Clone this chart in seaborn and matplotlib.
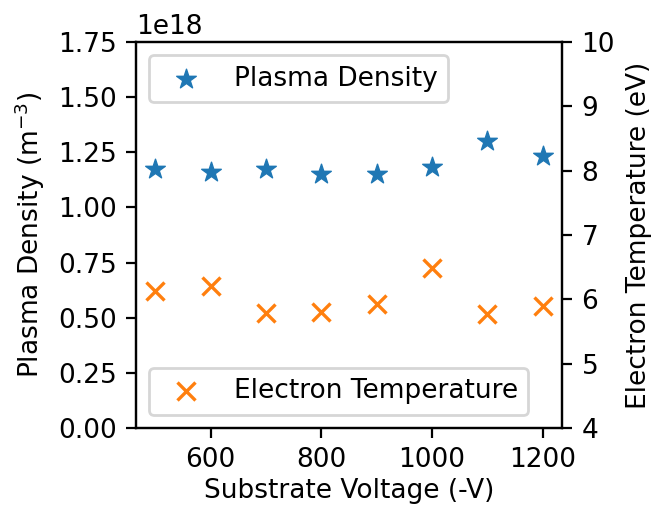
import matplotlib
matplotlib.use("Agg")
import matplotlib.pyplot as plt
import seaborn as sns
import pandas as pd

voltage = [500, 600, 700, 800, 900, 1000, 1100, 1200]
density = [1.173e18, 1.162e18, 1.173e18, 1.151e18, 1.151e18, 1.185e18, 1.302e18, 1.233e18]
temperature = [6.13, 6.21, 5.79, 5.81, 5.92, 6.48, 5.77, 5.89]

plt.rcParams['font.family'] = ['DejaVu Sans']
plt.rcParams['font.size'] = 9.5

df = pd.DataFrame({"V": voltage, "n": density, "T": temperature})

fig = plt.figure(figsize=(3.26, 2.54), dpi=200)
ax = fig.add_axes([0.2086, 0.1575, 0.862 - 0.2086, 0.9173 - 0.1575])
ax2 = ax.twinx()

sns.scatterplot(data=df, x="V", y="n", ax=ax, marker="*", s=55, color="#1f77b4",
                edgecolor="#1f77b4", linewidth=0.5, label="Plasma Density")
sns.scatterplot(data=df, x="V", y="T", ax=ax2, marker="x", s=42, color="#ff7f0e",
                linewidth=1.2, label="Electron Temperature")

ax.set_ylim(0, 1.75e18)
ax.set_yticks([0, 0.25e18, 0.5e18, 0.75e18, 1.0e18, 1.25e18, 1.5e18, 1.75e18])
ax2.set_ylim(4, 10)
ax.set_xlim(465, 1235)
ax.set_xticks([600, 800, 1000, 1200])

ax.set_xlabel("Substrate Voltage (-V)", labelpad=1.5)
ax.set_ylabel("Plasma Density (m$^{-3}$)")
ax2.set_ylabel("Electron Temperature (eV)")

ax.legend(loc="upper left")
ax2.legend(loc="lower left")

fig.savefig("out.png", dpi=200)
